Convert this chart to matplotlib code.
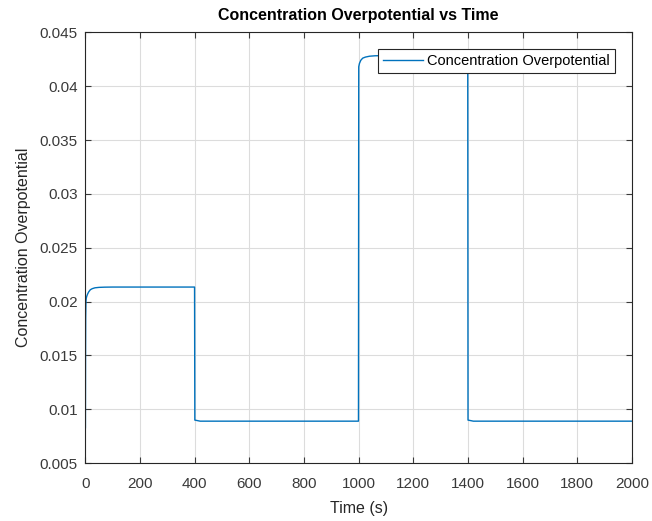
import matplotlib.pyplot as plt

plt.rcParams['font.family'] = ['Liberation Sans', 'DejaVu Sans']

# time (s) and concentration overpotential
time_s = [0, 0.5, 1, 2, 3, 5, 8, 12, 18, 25, 35, 50, 70, 100, 200, 399.5,
          400.5, 420, 600, 999.5,
          1000.5, 1003, 1008, 1015, 1025, 1040, 1060, 1100, 1399.5,
          1400.5, 1420, 1600, 2000]
overpot = [0.0083, 0.0150, 0.0185, 0.0200, 0.0203, 0.0205, 0.0207, 0.0209, 0.0211, 0.0212, 0.02128, 0.02132, 0.02134, 0.02135, 0.02135, 0.02135,
           0.0090, 0.0089, 0.0089, 0.0089,
           0.0418, 0.0421, 0.0424, 0.0426, 0.0427, 0.04278, 0.04282, 0.04284, 0.04284,
           0.0090, 0.0089, 0.0089, 0.0089]

xticks = [0, 200, 400, 600, 800, 1000, 1200, 1400, 1600, 1800, 2000]
yticks = [0.005, 0.01, 0.015, 0.02, 0.025, 0.03, 0.035, 0.04, 0.045]
ytick_labels = ['0.005', '0.01', '0.015', '0.02', '0.025', '0.03', '0.035', '0.04', '0.045']

fig = plt.figure(figsize=(6.52, 5.21), dpi=100)
ax = fig.add_axes([0.131, 0.111, 0.838, 0.827])

ax.plot(time_s, overpot, color='#0072BD', lw=1.0, label='Concentration Overpotential')

ax.set_xlim(0, 2000)
ax.set_ylim(0.005, 0.045)
ax.set_xticks(xticks)
ax.set_yticks(yticks)
ax.set_yticklabels(ytick_labels)
ax.grid(True, color='#dcdcdc', lw=0.8)
ax.set_axisbelow(True)
ax.tick_params(direction='in', top=True, right=True, labelsize=11, colors='#3a3a3a', length=4)
ax.tick_params(axis='x', pad=10)
ax.tick_params(axis='y', pad=5.5)
for s in ax.spines.values():
    s.set_color('#262626')
    s.set_linewidth(0.8)

ax.set_title('Concentration Overpotential vs Time', fontsize=11.5, fontweight='bold', pad=9)
ax.set_xlabel('Time (s)', fontsize=11.5, color='#262626', labelpad=7)
ax.set_ylabel('Concentration Overpotential', fontsize=11.5, color='#262626', labelpad=6)

leg = ax.legend(loc='upper right', bbox_to_anchor=(0.969, 0.962), borderaxespad=0,
                fontsize=10.5, fancybox=False, framealpha=1, edgecolor='#262626',
                handlelength=2.7, handletextpad=0.3, borderpad=0.35)
leg.get_frame().set_linewidth(0.8)

plt.savefig('out.png', dpi=100)
